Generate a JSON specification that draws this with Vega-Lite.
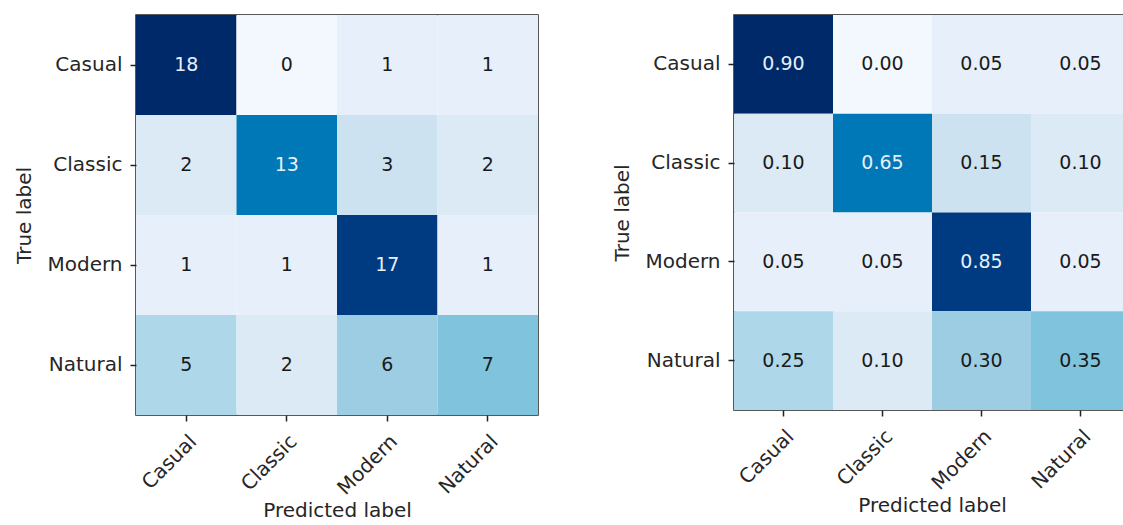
{
  "$schema": "https://vega.github.io/schema/vega-lite/v6.json",
  "padding": {"left": 14, "top": 14, "right": 0, "bottom": 0},
  "background": "white",
  "datasets": {
    "cm": [
      {"true": "Casual", "pred": "Casual", "count": 18, "norm": 0.90},
      {"true": "Casual", "pred": "Classic", "count": 0, "norm": 0.00},
      {"true": "Casual", "pred": "Modern", "count": 1, "norm": 0.05},
      {"true": "Casual", "pred": "Natural", "count": 1, "norm": 0.05},
      {"true": "Classic", "pred": "Casual", "count": 2, "norm": 0.10},
      {"true": "Classic", "pred": "Classic", "count": 13, "norm": 0.65},
      {"true": "Classic", "pred": "Modern", "count": 3, "norm": 0.15},
      {"true": "Classic", "pred": "Natural", "count": 2, "norm": 0.10},
      {"true": "Modern", "pred": "Casual", "count": 1, "norm": 0.05},
      {"true": "Modern", "pred": "Classic", "count": 1, "norm": 0.05},
      {"true": "Modern", "pred": "Modern", "count": 17, "norm": 0.85},
      {"true": "Modern", "pred": "Natural", "count": 1, "norm": 0.05},
      {"true": "Natural", "pred": "Casual", "count": 5, "norm": 0.25},
      {"true": "Natural", "pred": "Classic", "count": 2, "norm": 0.10},
      {"true": "Natural", "pred": "Modern", "count": 6, "norm": 0.30},
      {"true": "Natural", "pred": "Natural", "count": 7, "norm": 0.35}
    ]
  },
  "spacing": 196,
  "bounds": "flush",
  "resolve": {"scale": {"color": "independent"}},
  "hconcat": [
    {
      "width": 402,
      "height": 400,
      "data": {"name": "cm"},
      "encoding": {
        "x": {"field": "pred", "type": "nominal", "sort": ["Casual", "Classic", "Modern", "Natural"], "scale": {"paddingInner": 0, "paddingOuter": 0}, "title": "Predicted label"},
        "y": {"field": "true", "type": "nominal", "sort": ["Casual", "Classic", "Modern", "Natural"], "scale": {"paddingInner": 0, "paddingOuter": 0}, "title": "True label"}
      },
      "layer": [
        {
          "mark": {"type": "rect"},
          "encoding": {
            "color": {"field": "count", "type": "quantitative", "scale": {"domain": [0, 1, 2, 3, 5, 6, 7, 13, 17, 18], "range": ["#f2f8fd", "#e7f0fa", "#dceaf5", "#cde2f0", "#aed7ea", "#9ccde2", "#80c3dd", "#0077b6", "#003a80", "#00296a"]}, "legend": null}
          }
        },
        {
          "mark": {"type": "text", "fontSize": 19, "font": "DejaVu Sans"},
          "encoding": {
            "text": {"field": "count", "type": "quantitative", "format": "d"},
            "color": {"condition": {"test": "datum.count > 9", "value": "#e6f0fa"}, "value": "#1a1a1a"}
          }
        }
      ]
    },
    {
      "width": 396,
      "height": 395,
      "data": {"name": "cm"},
      "encoding": {
        "x": {"field": "pred", "type": "nominal", "sort": ["Casual", "Classic", "Modern", "Natural"], "scale": {"paddingInner": 0, "paddingOuter": 0}, "title": "Predicted label"},
        "y": {"field": "true", "type": "nominal", "sort": ["Casual", "Classic", "Modern", "Natural"], "scale": {"paddingInner": 0, "paddingOuter": 0}, "title": "True label"}
      },
      "layer": [
        {
          "mark": {"type": "rect"},
          "encoding": {
            "color": {"field": "norm", "type": "quantitative", "scale": {"domain": [0, 0.05, 0.1, 0.15, 0.25, 0.3, 0.35, 0.65, 0.85, 0.9], "range": ["#f2f8fd", "#e7f0fa", "#dceaf5", "#cde2f0", "#aed7ea", "#9ccde2", "#80c3dd", "#0077b6", "#003a80", "#00296a"]}, "legend": null}
          }
        },
        {
          "mark": {"type": "text", "fontSize": 19, "font": "DejaVu Sans"},
          "encoding": {
            "text": {"field": "norm", "type": "quantitative", "format": ".2f"},
            "color": {"condition": {"test": "datum.norm > 0.45", "value": "#e6f0fa"}, "value": "#1a1a1a"}
          }
        }
      ]
    }
  ],
  "config": {
    "view": {"stroke": "#222222", "strokeWidth": 1.5},
    "axis": {
      "labelFont": "DejaVu Sans",
      "titleFont": "DejaVu Sans",
      "labelFontSize": 20,
      "titleFontSize": 20,
      "titleFontWeight": "normal",
      "labelColor": "#262626",
      "titleColor": "#262626",
      "tickColor": "#222222",
      "tickSize": 6,
      "tickWidth": 1.5,
      "domain": false,
      "grid": false,
      "labelPadding": 8,
      "titlePadding": 12
    },
    "axisX": {"labelAngle": -45, "labelAlign": "right", "labelBaseline": "top", "labelPadding": 10, "labelOffset": 0, "titlePadding": 2}
  }
}
